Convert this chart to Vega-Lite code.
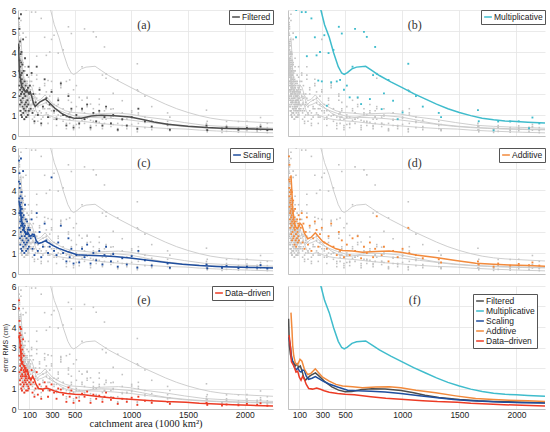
{
  "$schema": "https://vega.github.io/schema/vega-lite/v6.json",
  "padding": {"left": 1, "top": 6, "right": 6, "bottom": 0},
  "bounds": "flush",
  "columns": 2,
  "spacing": {"row": 12, "column": 15},
  "resolve": {"scale": {"color": "independent"}},
  "config": {
    "view": {"stroke": null},
    "axis": {"grid": true, "gridColor": "#e4e4e4", "gridWidth": 0.8, "ticks": false, "domainColor": "#b4b4b4", "domainWidth": 0.8, "labelFont": "Liberation Sans", "labelFontSize": 8.5, "labelColor": "#222", "labelPadding": 2, "titleFont": "Liberation Sans", "titleFontWeight": "normal", "titleColor": "#222"},
    "legend": {"orient": "top-right", "offset": 0, "title": null, "symbolType": "stroke", "symbolSize": 60, "symbolStrokeWidth": 1.5, "labelFont": "Liberation Sans", "labelFontSize": 8.5, "labelColor": "#222", "padding": 2, "strokeColor": "#555", "fillColor": "white", "rowPadding": 0, "labelOffset": 1}
  },
  "datasets": {
    "pts": [
      {"x": 8, "F": 4.2, "M": 12.5, "S": 4.4, "A": 5.6, "D": 4.9},
      {"x": 10, "F": 5.6, "M": 14.0, "S": 5.4, "A": 4.5, "D": 5.3},
      {"x": 11, "F": 3.1, "M": 9.8, "S": 3.6, "A": 4.1, "D": 3.5},
      {"x": 12, "F": 2.4, "M": 8.6, "S": 2.9, "A": 3.7, "D": 2.6},
      {"x": 13, "F": 5.1, "M": 13.2, "S": 4.8, "A": 5.2, "D": 4.3},
      {"x": 14, "F": 1.9, "M": 7.8, "S": 2.2, "A": 3.2, "D": 1.8},
      {"x": 15, "F": 3.6, "M": 11.0, "S": 4.1, "A": 4.4, "D": 3.7},
      {"x": 16, "F": 2.8, "M": 9.1, "S": 3.3, "A": 3.9, "D": 3.0},
      {"x": 17, "F": 1.5, "M": 7.0, "S": 1.7, "A": 2.6, "D": 1.4},
      {"x": 18, "F": 4.5, "M": 12.0, "S": 4.3, "A": 3.4, "D": 4.0},
      {"x": 19, "F": 2.2, "M": 8.4, "S": 2.5, "A": 2.9, "D": 2.1},
      {"x": 20, "F": 3.3, "M": 10.3, "S": 3.0, "A": 4.6, "D": 3.3},
      {"x": 21, "F": 1.2, "M": 6.6, "S": 1.4, "A": 2.2, "D": 1.2},
      {"x": 22, "F": 2.6, "M": 8.9, "S": 2.8, "A": 3.5, "D": 2.4},
      {"x": 23, "F": 3.9, "M": 11.5, "S": 3.7, "A": 3.0, "D": 3.6},
      {"x": 24, "F": 1.7, "M": 7.5, "S": 2.0, "A": 2.4, "D": 1.6},
      {"x": 25, "F": 2.9, "M": 9.5, "S": 3.2, "A": 3.8, "D": 2.8},
      {"x": 26, "F": 5.8, "M": 13.8, "S": 5.5, "A": 4.0, "D": 3.9},
      {"x": 27, "F": 2.0, "M": 8.0, "S": 2.3, "A": 2.7, "D": 1.9},
      {"x": 28, "F": 3.5, "M": 10.6, "S": 3.4, "A": 3.3, "D": 3.1},
      {"x": 29, "F": 1.0, "M": 6.3, "S": 1.2, "A": 1.9, "D": 1.0},
      {"x": 30, "F": 2.3, "M": 8.7, "S": 2.6, "A": 3.1, "D": 2.2},
      {"x": 31, "F": 4.0, "M": 11.7, "S": 3.9, "A": 3.6, "D": 2.5},
      {"x": 32, "F": 1.6, "M": 7.2, "S": 1.8, "A": 2.3, "D": 1.5},
      {"x": 33, "F": 2.7, "M": 9.0, "S": 2.9, "A": 2.8, "D": 2.0},
      {"x": 34, "F": 3.0, "M": 9.7, "S": 3.1, "A": 3.9, "D": 2.7},
      {"x": 35, "F": 0.9, "M": 6.1, "S": 1.1, "A": 1.6, "D": 0.9},
      {"x": 36, "F": 2.1, "M": 8.2, "S": 2.4, "A": 2.5, "D": 1.7},
      {"x": 38, "F": 3.4, "M": 10.1, "S": 3.6, "A": 3.2, "D": 2.9},
      {"x": 40, "F": 1.4, "M": 7.1, "S": 1.6, "A": 2.0, "D": 1.3},
      {"x": 41, "F": 2.5, "M": 8.8, "S": 2.7, "A": 2.9, "D": 2.3},
      {"x": 43, "F": 1.8, "M": 7.6, "S": 2.1, "A": 2.6, "D": 1.6},
      {"x": 45, "F": 4.6, "M": 6.9, "S": 4.9, "A": 3.5, "D": 3.4},
      {"x": 47, "F": 1.1, "M": 6.4, "S": 1.3, "A": 1.7, "D": 1.1},
      {"x": 48, "F": 2.2, "M": 8.3, "S": 2.4, "A": 2.4, "D": 1.9},
      {"x": 50, "F": 3.1, "M": 9.6, "S": 2.8, "A": 3.0, "D": 2.6},
      {"x": 52, "F": 1.3, "M": 6.8, "S": 1.5, "A": 1.8, "D": 1.2},
      {"x": 54, "F": 2.0, "M": 7.9, "S": 2.2, "A": 2.2, "D": 1.8},
      {"x": 56, "F": 0.8, "M": 6.2, "S": 1.0, "A": 1.4, "D": 0.8},
      {"x": 58, "F": 2.6, "M": 8.5, "S": 2.3, "A": 2.7, "D": 2.1},
      {"x": 60, "F": 1.5, "M": 7.3, "S": 1.8, "A": 2.1, "D": 1.4},
      {"x": 62, "F": 3.7, "M": 10.8, "S": 3.3, "A": 3.1, "D": 1.6},
      {"x": 64, "F": 1.9, "M": 7.7, "S": 2.0, "A": 2.3, "D": 1.7},
      {"x": 66, "F": 1.2, "M": 6.5, "S": 1.4, "A": 1.6, "D": 1.3},
      {"x": 68, "F": 2.4, "M": 8.1, "S": 2.6, "A": 2.5, "D": 2.0},
      {"x": 70, "F": 1.6, "M": 4.7, "S": 1.9, "A": 1.9, "D": 1.5},
      {"x": 72, "F": 0.9, "M": 6.0, "S": 1.1, "A": 1.3, "D": 0.9},
      {"x": 75, "F": 2.1, "M": 7.4, "S": 1.7, "A": 2.2, "D": 1.6},
      {"x": 78, "F": 1.4, "M": 6.7, "S": 1.5, "A": 1.7, "D": 1.2},
      {"x": 80, "F": 2.9, "M": 9.2, "S": 2.5, "A": 2.6, "D": 1.9},
      {"x": 83, "F": 1.7, "M": 7.0, "S": 1.9, "A": 2.0, "D": 1.4},
      {"x": 86, "F": 1.0, "M": 6.3, "S": 1.2, "A": 1.5, "D": 0.9},
      {"x": 88, "F": 2.3, "M": 8.0, "S": 2.1, "A": 2.4, "D": 1.7},
      {"x": 90, "F": 1.5, "M": 6.8, "S": 1.6, "A": 1.8, "D": 1.1},
      {"x": 93, "F": 3.3, "M": 6.4, "S": 2.2, "A": 2.8, "D": 1.5},
      {"x": 96, "F": 1.2, "M": 6.2, "S": 1.3, "A": 1.6, "D": 1.0},
      {"x": 99, "F": 2.0, "M": 7.2, "S": 1.8, "A": 2.3, "D": 1.3},
      {"x": 105, "F": 2.4, "M": 7.5, "S": 2.1, "A": 2.6, "D": 1.5},
      {"x": 112, "F": 1.3, "M": 6.9, "S": 1.7, "A": 2.2, "D": 1.2},
      {"x": 120, "F": 3.0, "M": 5.9, "S": 2.6, "A": 2.9, "D": 1.9},
      {"x": 128, "F": 1.1, "M": 6.6, "S": 1.2, "A": 1.5, "D": 0.8},
      {"x": 135, "F": 2.0, "M": 7.8, "S": 1.8, "A": 2.4, "D": 1.3},
      {"x": 145, "F": 0.7, "M": 6.1, "S": 0.9, "A": 1.2, "D": 0.6},
      {"x": 155, "F": 1.6, "M": 5.9, "S": 1.5, "A": 2.0, "D": 1.0},
      {"x": 165, "F": 3.3, "M": 3.8, "S": 2.9, "A": 2.7, "D": 1.8},
      {"x": 175, "F": 1.0, "M": 6.4, "S": 1.1, "A": 1.4, "D": 0.7},
      {"x": 190, "F": 2.2, "M": 7.0, "S": 2.0, "A": 2.3, "D": 1.2},
      {"x": 205, "F": 0.6, "M": 5.6, "S": 0.8, "A": 1.1, "D": 0.5},
      {"x": 220, "F": 1.4, "M": 6.8, "S": 1.3, "A": 1.7, "D": 0.9},
      {"x": 235, "F": 2.7, "M": 4.7, "S": 2.4, "A": 2.5, "D": 1.3},
      {"x": 250, "F": 1.8, "M": 3.84, "S": 1.6, "A": 2.1, "D": 1.1},
      {"x": 265, "F": 0.9, "M": 2.64, "S": 1.0, "A": 1.3, "D": 0.6},
      {"x": 280, "F": 1.5, "M": 4.0, "S": 1.3, "A": 1.9, "D": 0.9},
      {"x": 296, "F": 2.1, "M": 2.6, "S": 4.6, "A": 2.2, "D": 1.2},
      {"x": 318, "F": 1.2, "M": 4.8, "S": 1.1, "A": 1.5, "D": 0.8},
      {"x": 340, "F": 0.8, "M": 1.44, "S": 0.9, "A": 1.2, "D": 0.5},
      {"x": 355, "F": 1.7, "M": 3.95, "S": 1.5, "A": 1.8, "D": 1.0},
      {"x": 378, "F": 2.5, "M": 2.56, "S": 2.3, "A": 2.4, "D": 0.95},
      {"x": 398, "F": 1.0, "M": 4.1, "S": 1.0, "A": 1.3, "D": 0.7},
      {"x": 427, "F": 0.5, "M": 2.6, "S": 0.6, "A": 0.9, "D": 0.35},
      {"x": 445, "F": 1.9, "M": 5.2, "S": 1.7, "A": 2.0, "D": 1.05},
      {"x": 456, "F": 0.9, "M": 2.67, "S": 0.8, "A": 1.1, "D": 0.6},
      {"x": 471, "F": 1.3, "M": 4.88, "S": 1.2, "A": 1.6, "D": 0.9},
      {"x": 490, "F": 0.4, "M": 2.2, "S": 0.5, "A": 0.8, "D": 0.3},
      {"x": 515, "F": 1.0, "M": 2.4, "S": 0.9, "A": 1.4, "D": 0.55},
      {"x": 540, "F": 0.6, "M": 1.84, "S": 0.55, "A": 0.9, "D": 0.4},
      {"x": 565, "F": 1.3, "M": 3.3, "S": 1.2, "A": 1.7, "D": 0.75},
      {"x": 587, "F": 0.8, "M": 5.1, "S": 0.8, "A": 1.1, "D": 0.6},
      {"x": 610, "F": 1.5, "M": 1.84, "S": 1.4, "A": 1.8, "D": 0.85},
      {"x": 640, "F": 0.4, "M": 1.52, "S": 0.5, "A": 0.75, "D": 0.3},
      {"x": 665, "F": 1.1, "M": 4.96, "S": 1.0, "A": 1.3, "D": 0.7},
      {"x": 690, "F": 0.7, "M": 4.72, "S": 0.65, "A": 1.0, "D": 0.5},
      {"x": 717, "F": 1.2, "M": 1.76, "S": 1.1, "A": 1.5, "D": 0.65},
      {"x": 745, "F": 0.5, "M": 2.9, "S": 0.45, "A": 0.8, "D": 0.35},
      {"x": 763, "F": 0.9, "M": 4.24, "S": 0.9, "A": 1.2, "D": 0.6},
      {"x": 777, "F": 1.4, "M": 2.96, "S": 1.3, "A": 2.75, "D": 0.8},
      {"x": 820, "F": 0.6, "M": 1.28, "S": 0.6, "A": 0.9, "D": 0.45},
      {"x": 840, "F": 1.0, "M": 2.03, "S": 0.95, "A": 1.3, "D": 0.55},
      {"x": 880, "F": 0.3, "M": 2.67, "S": 0.35, "A": 0.6, "D": 0.25},
      {"x": 920, "F": 0.8, "M": 1.68, "S": 0.75, "A": 1.1, "D": 0.5},
      {"x": 960, "F": 0.5, "M": 0.8, "S": 0.45, "A": 0.8, "D": 0.35},
      {"x": 1003, "F": 0.9, "M": 1.12, "S": 0.85, "A": 1.2, "D": 0.55},
      {"x": 1053, "F": 0.35, "M": 3.44, "S": 0.3, "A": 2.2, "D": 0.2},
      {"x": 1062, "F": 1.3, "M": 2.13, "S": 1.1, "A": 1.0, "D": 0.6},
      {"x": 1120, "F": 0.7, "M": 1.9, "S": 0.65, "A": 0.9, "D": 0.4},
      {"x": 1180, "F": 0.45, "M": 1.4, "S": 0.4, "A": 0.75, "D": 0.3},
      {"x": 1320, "F": 0.55, "M": 1.1, "S": 0.5, "A": 0.7, "D": 0.35},
      {"x": 1340, "F": 0.3, "M": 0.9, "S": 0.3, "A": 0.55, "D": 0.25},
      {"x": 1663, "F": 0.5, "M": 1.23, "S": 0.45, "A": 0.6, "D": 0.3},
      {"x": 1670, "F": 0.28, "M": 0.7, "S": 0.27, "A": 0.45, "D": 0.2},
      {"x": 1800, "F": 0.35, "M": 0.27, "S": 0.3, "A": 0.35, "D": 0.17},
      {"x": 1840, "F": 0.42, "M": 0.69, "S": 0.38, "A": 0.5, "D": 0.22},
      {"x": 1945, "F": 0.3, "M": 0.69, "S": 0.28, "A": 0.4, "D": 0.18},
      {"x": 2020, "F": 0.38, "M": 0.7, "S": 0.35, "A": 0.48, "D": 0.25},
      {"x": 2110, "F": 0.32, "M": 0.37, "S": 0.3, "A": 0.42, "D": 0.2},
      {"x": 2140, "F": 0.45, "M": 0.88, "S": 0.42, "A": 0.55, "D": 0.28},
      {"x": 2200, "F": 0.28, "M": 0.6, "S": 0.26, "A": 0.4, "D": 0.16}
    ],
    "lines": [
      {"k": "F", "method": "Filtered", "x": 5, "y": 4.4},
      {"k": "F", "method": "Filtered", "x": 12, "y": 3.1},
      {"k": "F", "method": "Filtered", "x": 21, "y": 2.67},
      {"k": "F", "method": "Filtered", "x": 35, "y": 2.35},
      {"k": "F", "method": "Filtered", "x": 50, "y": 2.27},
      {"k": "F", "method": "Filtered", "x": 64, "y": 2.1},
      {"k": "F", "method": "Filtered", "x": 79, "y": 2.2},
      {"k": "F", "method": "Filtered", "x": 93, "y": 2.03},
      {"k": "F", "method": "Filtered", "x": 108, "y": 2.1},
      {"k": "F", "method": "Filtered", "x": 122, "y": 1.87},
      {"k": "F", "method": "Filtered", "x": 137, "y": 1.55},
      {"k": "F", "method": "Filtered", "x": 152, "y": 1.4},
      {"k": "F", "method": "Filtered", "x": 166, "y": 1.48},
      {"k": "F", "method": "Filtered", "x": 195, "y": 1.63},
      {"k": "F", "method": "Filtered", "x": 240, "y": 1.76},
      {"k": "F", "method": "Filtered", "x": 268, "y": 1.63},
      {"k": "F", "method": "Filtered", "x": 326, "y": 1.32},
      {"k": "F", "method": "Filtered", "x": 384, "y": 1.08},
      {"k": "F", "method": "Filtered", "x": 443, "y": 0.92},
      {"k": "F", "method": "Filtered", "x": 501, "y": 0.84},
      {"k": "F", "method": "Filtered", "x": 559, "y": 0.85},
      {"k": "F", "method": "Filtered", "x": 647, "y": 0.95},
      {"k": "F", "method": "Filtered", "x": 734, "y": 0.99},
      {"k": "F", "method": "Filtered", "x": 850, "y": 0.97},
      {"k": "F", "method": "Filtered", "x": 990, "y": 0.9},
      {"k": "F", "method": "Filtered", "x": 1100, "y": 0.79},
      {"k": "F", "method": "Filtered", "x": 1200, "y": 0.67},
      {"k": "F", "method": "Filtered", "x": 1320, "y": 0.56},
      {"k": "F", "method": "Filtered", "x": 1500, "y": 0.46},
      {"k": "F", "method": "Filtered", "x": 1665, "y": 0.4},
      {"k": "F", "method": "Filtered", "x": 1800, "y": 0.37},
      {"k": "F", "method": "Filtered", "x": 2000, "y": 0.34},
      {"k": "F", "method": "Filtered", "x": 2250, "y": 0.31},
      {"k": "M", "method": "Multiplicative", "x": 150, "y": 10.2},
      {"k": "M", "method": "Multiplicative", "x": 200, "y": 8.4},
      {"k": "M", "method": "Multiplicative", "x": 250, "y": 7.1},
      {"k": "M", "method": "Multiplicative", "x": 288, "y": 6.0},
      {"k": "M", "method": "Multiplicative", "x": 320, "y": 5.3},
      {"k": "M", "method": "Multiplicative", "x": 361, "y": 4.7},
      {"k": "M", "method": "Multiplicative", "x": 400, "y": 3.95},
      {"k": "M", "method": "Multiplicative", "x": 440, "y": 3.3},
      {"k": "M", "method": "Multiplicative", "x": 470, "y": 3.0},
      {"k": "M", "method": "Multiplicative", "x": 492, "y": 2.93},
      {"k": "M", "method": "Multiplicative", "x": 520, "y": 3.02},
      {"k": "M", "method": "Multiplicative", "x": 560, "y": 3.2},
      {"k": "M", "method": "Multiplicative", "x": 600, "y": 3.28},
      {"k": "M", "method": "Multiplicative", "x": 680, "y": 3.32},
      {"k": "M", "method": "Multiplicative", "x": 740, "y": 3.1},
      {"k": "M", "method": "Multiplicative", "x": 800, "y": 2.88},
      {"k": "M", "method": "Multiplicative", "x": 900, "y": 2.58},
      {"k": "M", "method": "Multiplicative", "x": 1000, "y": 2.3},
      {"k": "M", "method": "Multiplicative", "x": 1100, "y": 2.02},
      {"k": "M", "method": "Multiplicative", "x": 1200, "y": 1.77},
      {"k": "M", "method": "Multiplicative", "x": 1300, "y": 1.52},
      {"k": "M", "method": "Multiplicative", "x": 1400, "y": 1.3},
      {"k": "M", "method": "Multiplicative", "x": 1500, "y": 1.12},
      {"k": "M", "method": "Multiplicative", "x": 1600, "y": 0.97},
      {"k": "M", "method": "Multiplicative", "x": 1700, "y": 0.85},
      {"k": "M", "method": "Multiplicative", "x": 1800, "y": 0.77},
      {"k": "M", "method": "Multiplicative", "x": 1900, "y": 0.72},
      {"k": "M", "method": "Multiplicative", "x": 2000, "y": 0.69},
      {"k": "M", "method": "Multiplicative", "x": 2100, "y": 0.66},
      {"k": "M", "method": "Multiplicative", "x": 2250, "y": 0.62},
      {"k": "S", "method": "Scaling", "x": 8, "y": 3.5},
      {"k": "S", "method": "Scaling", "x": 20, "y": 3.1},
      {"k": "S", "method": "Scaling", "x": 30, "y": 2.6},
      {"k": "S", "method": "Scaling", "x": 42, "y": 2.3},
      {"k": "S", "method": "Scaling", "x": 55, "y": 2.05},
      {"k": "S", "method": "Scaling", "x": 70, "y": 1.9},
      {"k": "S", "method": "Scaling", "x": 85, "y": 2.0},
      {"k": "S", "method": "Scaling", "x": 100, "y": 1.85},
      {"k": "S", "method": "Scaling", "x": 114, "y": 1.8},
      {"k": "S", "method": "Scaling", "x": 130, "y": 1.9},
      {"k": "S", "method": "Scaling", "x": 143, "y": 1.88},
      {"k": "S", "method": "Scaling", "x": 160, "y": 1.6},
      {"k": "S", "method": "Scaling", "x": 180, "y": 1.45},
      {"k": "S", "method": "Scaling", "x": 210, "y": 1.5},
      {"k": "S", "method": "Scaling", "x": 240, "y": 1.58},
      {"k": "S", "method": "Scaling", "x": 270, "y": 1.48},
      {"k": "S", "method": "Scaling", "x": 310, "y": 1.35},
      {"k": "S", "method": "Scaling", "x": 360, "y": 1.22},
      {"k": "S", "method": "Scaling", "x": 434, "y": 1.07},
      {"k": "S", "method": "Scaling", "x": 522, "y": 0.92},
      {"k": "S", "method": "Scaling", "x": 609, "y": 0.89},
      {"k": "S", "method": "Scaling", "x": 725, "y": 0.87},
      {"k": "S", "method": "Scaling", "x": 850, "y": 0.83},
      {"k": "S", "method": "Scaling", "x": 988, "y": 0.76},
      {"k": "S", "method": "Scaling", "x": 1150, "y": 0.65},
      {"k": "S", "method": "Scaling", "x": 1308, "y": 0.55},
      {"k": "S", "method": "Scaling", "x": 1450, "y": 0.46},
      {"k": "S", "method": "Scaling", "x": 1600, "y": 0.4},
      {"k": "S", "method": "Scaling", "x": 1750, "y": 0.36},
      {"k": "S", "method": "Scaling", "x": 1891, "y": 0.33},
      {"k": "S", "method": "Scaling", "x": 2050, "y": 0.31},
      {"k": "S", "method": "Scaling", "x": 2250, "y": 0.29},
      {"k": "A", "method": "Additive", "x": 26, "y": 4.7},
      {"k": "A", "method": "Additive", "x": 35, "y": 3.84},
      {"k": "A", "method": "Additive", "x": 41, "y": 3.1},
      {"k": "A", "method": "Additive", "x": 50, "y": 2.6},
      {"k": "A", "method": "Additive", "x": 64, "y": 2.25},
      {"k": "A", "method": "Additive", "x": 84, "y": 2.16},
      {"k": "A", "method": "Additive", "x": 105, "y": 2.42},
      {"k": "A", "method": "Additive", "x": 122, "y": 2.33},
      {"k": "A", "method": "Additive", "x": 143, "y": 1.95},
      {"k": "A", "method": "Additive", "x": 172, "y": 1.68},
      {"k": "A", "method": "Additive", "x": 201, "y": 1.74},
      {"k": "A", "method": "Additive", "x": 239, "y": 1.96},
      {"k": "A", "method": "Additive", "x": 268, "y": 1.77},
      {"k": "A", "method": "Additive", "x": 303, "y": 1.55},
      {"k": "A", "method": "Additive", "x": 361, "y": 1.36},
      {"k": "A", "method": "Additive", "x": 420, "y": 1.2},
      {"k": "A", "method": "Additive", "x": 478, "y": 1.12},
      {"k": "A", "method": "Additive", "x": 565, "y": 1.09},
      {"k": "A", "method": "Additive", "x": 652, "y": 1.04},
      {"k": "A", "method": "Additive", "x": 769, "y": 1.07},
      {"k": "A", "method": "Additive", "x": 886, "y": 1.09},
      {"k": "A", "method": "Additive", "x": 988, "y": 1.04},
      {"k": "A", "method": "Additive", "x": 1120, "y": 0.91},
      {"k": "A", "method": "Additive", "x": 1293, "y": 0.79},
      {"k": "A", "method": "Additive", "x": 1468, "y": 0.64},
      {"k": "A", "method": "Additive", "x": 1643, "y": 0.51},
      {"k": "A", "method": "Additive", "x": 1800, "y": 0.46},
      {"k": "A", "method": "Additive", "x": 1937, "y": 0.43},
      {"k": "A", "method": "Additive", "x": 2100, "y": 0.4},
      {"k": "A", "method": "Additive", "x": 2250, "y": 0.37},
      {"k": "D", "method": "Data–driven", "x": 10, "y": 3.6},
      {"k": "D", "method": "Data–driven", "x": 22, "y": 3.0},
      {"k": "D", "method": "Data–driven", "x": 30, "y": 2.3},
      {"k": "D", "method": "Data–driven", "x": 41, "y": 2.2},
      {"k": "D", "method": "Data–driven", "x": 55, "y": 2.05},
      {"k": "D", "method": "Data–driven", "x": 70, "y": 1.8},
      {"k": "D", "method": "Data–driven", "x": 85, "y": 1.85},
      {"k": "D", "method": "Data–driven", "x": 99, "y": 1.55},
      {"k": "D", "method": "Data–driven", "x": 114, "y": 1.4},
      {"k": "D", "method": "Data–driven", "x": 128, "y": 1.6},
      {"k": "D", "method": "Data–driven", "x": 143, "y": 1.45},
      {"k": "D", "method": "Data–driven", "x": 160, "y": 1.2},
      {"k": "D", "method": "Data–driven", "x": 181, "y": 1.0},
      {"k": "D", "method": "Data–driven", "x": 215, "y": 0.97},
      {"k": "D", "method": "Data–driven", "x": 251, "y": 1.02},
      {"k": "D", "method": "Data–driven", "x": 290, "y": 0.95},
      {"k": "D", "method": "Data–driven", "x": 317, "y": 0.89},
      {"k": "D", "method": "Data–driven", "x": 361, "y": 0.82},
      {"k": "D", "method": "Data–driven", "x": 434, "y": 0.76},
      {"k": "D", "method": "Data–driven", "x": 500, "y": 0.72},
      {"k": "D", "method": "Data–driven", "x": 580, "y": 0.69},
      {"k": "D", "method": "Data–driven", "x": 725, "y": 0.6},
      {"k": "D", "method": "Data–driven", "x": 856, "y": 0.53},
      {"k": "D", "method": "Data–driven", "x": 988, "y": 0.48},
      {"k": "D", "method": "Data–driven", "x": 1180, "y": 0.4},
      {"k": "D", "method": "Data–driven", "x": 1308, "y": 0.36},
      {"k": "D", "method": "Data–driven", "x": 1482, "y": 0.33},
      {"k": "D", "method": "Data–driven", "x": 1600, "y": 0.28},
      {"k": "D", "method": "Data–driven", "x": 1750, "y": 0.24},
      {"k": "D", "method": "Data–driven", "x": 1891, "y": 0.21},
      {"k": "D", "method": "Data–driven", "x": 2050, "y": 0.18},
      {"k": "D", "method": "Data–driven", "x": 2250, "y": 0.15}
    ]
  },
  "concat": [
    {
      "width": 255, "height": 126,
      "encoding": {
        "x": {"field": "x", "type": "quantitative", "scale": {"domain": [0, 2250], "nice": false, "zero": false}, "axis": {"values": [100, 300, 500, 1000, 1500, 2000], "format": "d", "labels": false, "title": null}},
        "y": {"field": "y", "type": "quantitative", "scale": {"domain": [0, 6], "nice": false}, "axis": {"values": [0, 1, 2, 3, 4, 5, 6], "title": null}}
      },
      "layer": [
        {"data": {"name": "pts"}, "transform": [{"fold": ["F", "M", "S", "A", "D"], "as": ["k", "y"]}, {"filter": "datum.k != 'F'"}], "mark": {"type": "square", "size": 2.5, "color": "#c2c2c2", "opacity": 1, "clip": true}},
        {"data": {"name": "lines"}, "transform": [{"filter": "datum.k != 'F'"}], "mark": {"type": "line", "color": "#c8c8c8", "strokeWidth": 0.9, "clip": true}, "encoding": {"detail": {"field": "k"}}},
        {"data": {"name": "pts"}, "transform": [{"fold": ["F", "M", "S", "A", "D"], "as": ["k", "y"]}, {"filter": "datum.k == 'F'"}], "mark": {"type": "square", "size": 3.5, "color": "#4d4d4d", "opacity": 1, "clip": true}},
        {"data": {"name": "lines"}, "transform": [{"filter": "datum.k == 'F'"}], "mark": {"type": "line", "strokeWidth": 1.5, "clip": true}, "encoding": {"color": {"field": "method", "type": "nominal", "scale": {"domain": ["Filtered"], "range": ["#4d4d4d"]}}}},
        {"data": {"values": [{"x": 1110, "y": 5.3, "t": "(a)"}]}, "mark": {"type": "text", "font": "Liberation Serif", "fontSize": 12, "color": "#333"}, "encoding": {"text": {"field": "t"}}}
      ]
    },
    {
      "width": 257, "height": 126,
      "encoding": {
        "x": {"field": "x", "type": "quantitative", "scale": {"domain": [0, 2250], "nice": false, "zero": false}, "axis": {"values": [100, 300, 500, 1000, 1500, 2000], "format": "d", "labels": false, "title": null}},
        "y": {"field": "y", "type": "quantitative", "scale": {"domain": [0, 6], "nice": false}, "axis": {"values": [0, 1, 2, 3, 4, 5, 6], "labels": false, "title": null}}
      },
      "layer": [
        {"data": {"name": "pts"}, "transform": [{"fold": ["F", "M", "S", "A", "D"], "as": ["k", "y"]}, {"filter": "datum.k != 'M'"}], "mark": {"type": "square", "size": 2.5, "color": "#c2c2c2", "opacity": 1, "clip": true}},
        {"data": {"name": "lines"}, "transform": [{"filter": "datum.k != 'M'"}], "mark": {"type": "line", "color": "#c8c8c8", "strokeWidth": 0.9, "clip": true}, "encoding": {"detail": {"field": "k"}}},
        {"data": {"name": "pts"}, "transform": [{"fold": ["F", "M", "S", "A", "D"], "as": ["k", "y"]}, {"filter": "datum.k == 'M'"}], "mark": {"type": "square", "size": 3.5, "color": "#3fbccc", "opacity": 1, "clip": true}},
        {"data": {"name": "lines"}, "transform": [{"filter": "datum.k == 'M'"}], "mark": {"type": "line", "strokeWidth": 1.5, "clip": true}, "encoding": {"color": {"field": "method", "type": "nominal", "scale": {"domain": ["Multiplicative"], "range": ["#3fbccc"]}}}},
        {"data": {"values": [{"x": 1110, "y": 5.3, "t": "(b)"}]}, "mark": {"type": "text", "font": "Liberation Serif", "fontSize": 12, "color": "#333"}, "encoding": {"text": {"field": "t"}}}
      ]
    },
    {
      "width": 255, "height": 126,
      "encoding": {
        "x": {"field": "x", "type": "quantitative", "scale": {"domain": [0, 2250], "nice": false, "zero": false}, "axis": {"values": [100, 300, 500, 1000, 1500, 2000], "format": "d", "labels": false, "title": null}},
        "y": {"field": "y", "type": "quantitative", "scale": {"domain": [0, 6], "nice": false}, "axis": {"values": [0, 1, 2, 3, 4, 5, 6], "title": null}}
      },
      "layer": [
        {"data": {"name": "pts"}, "transform": [{"fold": ["F", "M", "S", "A", "D"], "as": ["k", "y"]}, {"filter": "datum.k != 'S'"}], "mark": {"type": "square", "size": 2.5, "color": "#c2c2c2", "opacity": 1, "clip": true}},
        {"data": {"name": "lines"}, "transform": [{"filter": "datum.k != 'S'"}], "mark": {"type": "line", "color": "#c8c8c8", "strokeWidth": 0.9, "clip": true}, "encoding": {"detail": {"field": "k"}}},
        {"data": {"name": "pts"}, "transform": [{"fold": ["F", "M", "S", "A", "D"], "as": ["k", "y"]}, {"filter": "datum.k == 'S'"}], "mark": {"type": "square", "size": 3.5, "color": "#1f4e9e", "opacity": 1, "clip": true}},
        {"data": {"name": "lines"}, "transform": [{"filter": "datum.k == 'S'"}], "mark": {"type": "line", "strokeWidth": 1.5, "clip": true}, "encoding": {"color": {"field": "method", "type": "nominal", "scale": {"domain": ["Scaling"], "range": ["#1f4e9e"]}}}},
        {"data": {"values": [{"x": 1110, "y": 5.3, "t": "(c)"}]}, "mark": {"type": "text", "font": "Liberation Serif", "fontSize": 12, "color": "#333"}, "encoding": {"text": {"field": "t"}}}
      ]
    },
    {
      "width": 257, "height": 126,
      "encoding": {
        "x": {"field": "x", "type": "quantitative", "scale": {"domain": [0, 2250], "nice": false, "zero": false}, "axis": {"values": [100, 300, 500, 1000, 1500, 2000], "format": "d", "labels": false, "title": null}},
        "y": {"field": "y", "type": "quantitative", "scale": {"domain": [0, 6], "nice": false}, "axis": {"values": [0, 1, 2, 3, 4, 5, 6], "labels": false, "title": null}}
      },
      "layer": [
        {"data": {"name": "pts"}, "transform": [{"fold": ["F", "M", "S", "A", "D"], "as": ["k", "y"]}, {"filter": "datum.k != 'A'"}], "mark": {"type": "square", "size": 2.5, "color": "#c2c2c2", "opacity": 1, "clip": true}},
        {"data": {"name": "lines"}, "transform": [{"filter": "datum.k != 'A'"}], "mark": {"type": "line", "color": "#c8c8c8", "strokeWidth": 0.9, "clip": true}, "encoding": {"detail": {"field": "k"}}},
        {"data": {"name": "pts"}, "transform": [{"fold": ["F", "M", "S", "A", "D"], "as": ["k", "y"]}, {"filter": "datum.k == 'A'"}], "mark": {"type": "square", "size": 3.5, "color": "#f28a3c", "opacity": 1, "clip": true}},
        {"data": {"name": "lines"}, "transform": [{"filter": "datum.k == 'A'"}], "mark": {"type": "line", "strokeWidth": 1.5, "clip": true}, "encoding": {"color": {"field": "method", "type": "nominal", "scale": {"domain": ["Additive"], "range": ["#f28a3c"]}}}},
        {"data": {"values": [{"x": 1110, "y": 5.3, "t": "(d)"}]}, "mark": {"type": "text", "font": "Liberation Serif", "fontSize": 12, "color": "#333"}, "encoding": {"text": {"field": "t"}}}
      ]
    },
    {
      "width": 255, "height": 123,
      "encoding": {
        "x": {"field": "x", "type": "quantitative", "scale": {"domain": [0, 2250], "nice": false, "zero": false}, "axis": {"values": [100, 300, 500, 1000, 1500, 2000], "format": "d", "labelPadding": 1, "title": "catchment area (1000 km²)", "titleFont": "Liberation Serif", "titleFontSize": 10.5, "titlePadding": 0}},
        "y": {"field": "y", "type": "quantitative", "scale": {"domain": [0, 6], "nice": false}, "axis": {"values": [0, 1, 2, 3, 4, 5, 6], "title": "error RMS (cm)", "titleFontSize": 7, "titlePadding": 3}}
      },
      "layer": [
        {"data": {"name": "pts"}, "transform": [{"fold": ["F", "M", "S", "A", "D"], "as": ["k", "y"]}, {"filter": "datum.k != 'D'"}], "mark": {"type": "square", "size": 2.5, "color": "#c2c2c2", "opacity": 1, "clip": true}},
        {"data": {"name": "lines"}, "transform": [{"filter": "datum.k != 'D'"}], "mark": {"type": "line", "color": "#c8c8c8", "strokeWidth": 0.9, "clip": true}, "encoding": {"detail": {"field": "k"}}},
        {"data": {"name": "pts"}, "transform": [{"fold": ["F", "M", "S", "A", "D"], "as": ["k", "y"]}, {"filter": "datum.k == 'D'"}], "mark": {"type": "square", "size": 3.5, "color": "#ec3b25", "opacity": 1, "clip": true}},
        {"data": {"name": "lines"}, "transform": [{"filter": "datum.k == 'D'"}], "mark": {"type": "line", "strokeWidth": 1.5, "clip": true}, "encoding": {"color": {"field": "method", "type": "nominal", "scale": {"domain": ["Data–driven"], "range": ["#ec3b25"]}}}},
        {"data": {"values": [{"x": 1110, "y": 5.3, "t": "(e)"}]}, "mark": {"type": "text", "font": "Liberation Serif", "fontSize": 12, "color": "#333"}, "encoding": {"text": {"field": "t"}}}
      ]
    },
    {
      "width": 257, "height": 123,
      "encoding": {
        "x": {"field": "x", "type": "quantitative", "scale": {"domain": [0, 2250], "nice": false, "zero": false}, "axis": {"values": [100, 300, 500, 1000, 1500, 2000], "format": "d", "labelPadding": 1, "title": null}},
        "y": {"field": "y", "type": "quantitative", "scale": {"domain": [0, 6], "nice": false}, "axis": {"values": [0, 1, 2, 3, 4, 5, 6], "labels": false, "title": null}}
      },
      "layer": [
        {"data": {"name": "lines"}, "mark": {"type": "line", "strokeWidth": 1.5, "clip": true}, "encoding": {"color": {"field": "method", "type": "nominal", "scale": {"domain": ["Filtered", "Multiplicative", "Scaling", "Additive", "Data–driven"], "range": ["#4d4d4d", "#3fbccc", "#1f4e9e", "#f28a3c", "#ec3b25"]}, "legend": {"offset": 8}}}},
        {"data": {"values": [{"x": 1110, "y": 5.3, "t": "(f)"}]}, "mark": {"type": "text", "font": "Liberation Serif", "fontSize": 12, "color": "#333"}, "encoding": {"text": {"field": "t"}}}
      ]
    }
  ]
}
